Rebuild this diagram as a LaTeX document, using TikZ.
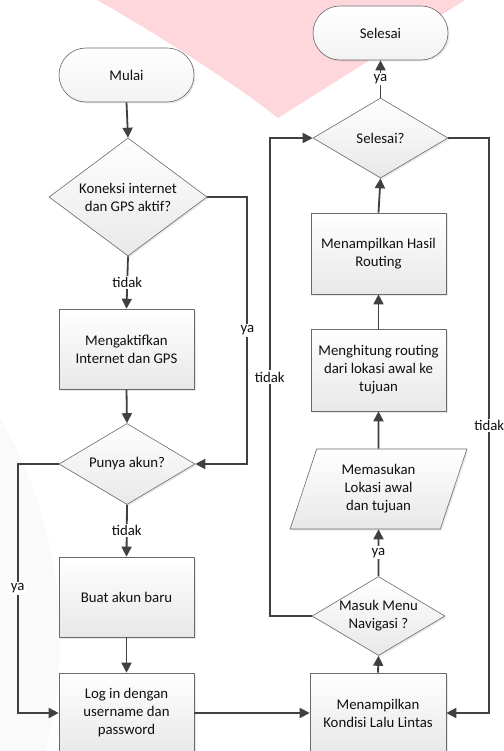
\documentclass[tikz,border=0pt]{standalone}
\usepackage{fontspec}
\setmainfont{Carlito}
\usetikzlibrary{shapes.geometric,arrows.meta,shadows}
\definecolor{linec}{HTML}{404040}
\definecolor{borderc}{HTML}{6A6A6A}
\definecolor{txtc}{HTML}{101010}
\definecolor{wmpink}{HTML}{FDD7DC}
\begin{document}
\begin{tikzpicture}[x=1pt,y=-1pt,
  every node/.style={font=\fontsize{14.8}{18}\selectfont, text=txtc},
  base/.style={draw=borderc, line width=0.6pt, top color=white, bottom color=black!9,
    drop shadow={shadow xshift=1.5pt, shadow yshift=-1.5pt, opacity=0.18}},
  procbox/.style={base, rectangle, minimum width=135pt, minimum height=80pt, inner sep=2pt, align=center},
  termbox/.style={base, rectangle, rounded corners=27pt, minimum width=135pt, minimum height=54pt, top color=white, bottom color=black!5},
  decision/.style={base, diamond, inner sep=0pt},
  iobox/.style={base, trapezium, trapezium left angle=72, trapezium right angle=108, trapezium stretches=true,
    minimum width=177pt, minimum height=80pt, inner sep=0pt, align=center},
  conn/.style={draw=linec, line width=1.8pt, -{Triangle[length=10pt,width=10pt]}},
  lab/.style={fill=white, inner sep=1.5pt}
]
\useasboundingbox (0,0) rectangle (503,751);
% background watermark
\fill[black!2] (-380,640) circle (440);
\fill[wmpink] (90,-5) -- (97,0) .. controls (150,30) and (230,80) .. (278,118) -- (465,0) -- (470,-5) -- cycle;

% left column
\node[termbox] (mulai) at (126.5,75) {Mulai};
\node[decision, minimum width=158pt, minimum height=118pt,
  label={[align=center]center:Koneksi internet\\dan GPS aktif?}] (kon) at (128,197) {};
\node[procbox] (meng) at (126.5,349) {Mengaktifkan\\Internet dan GPS};
\node[decision, minimum width=136pt, minimum height=81pt,
  label={center:Punya akun?}] (punya) at (127,464) {};
\node[procbox] (buat) at (126.5,597) {Buat akun baru};
\node[procbox] (login) at (126.5,713) {Log in dengan\\username dan\\password};

% right column
\node[termbox] (selesai) at (380.5,33) {Selesai};
\node[decision, minimum width=135pt, minimum height=80pt,
  label={center:Selesai?}] (sel) at (380.5,138) {};
\node[procbox, minimum height=81pt] (hasil) at (378.5,253.5) {Menampilkan Hasil\\Routing};
\node[procbox, minimum height=82pt] (hit) at (378.5,370) {Menghitung routing\\dari lokasi awal ke\\tujuan};
\node[iobox] (input) at (378.5,489) {Memasukan\\Lokasi awal\\dan tujuan};
\node[decision, minimum width=133pt, minimum height=79pt,
  label={[align=center]center:Masuk Menu\\Navigasi ?}] (masuk) at (378.5,616) {};
\node[procbox, minimum width=136pt] (kondisi) at (378,713) {Menampilkan\\Kondisi Lalu Lintas};

% connectors left
\draw[conn] (mulai.south) -- (kon.north);
\draw[conn] (kon.south) -- node[lab] (l1) {tidak} (meng.north);
\draw[conn] (kon.east) -- ++(40,0) |- node[lab, pos=0.25] (l2) {ya} (punya.east);
\draw[conn] (meng.south) -- (punya.north);
\draw[conn] (punya.west) -- ++(-41,0) |- node[lab, pos=0.25] (l3) {ya} (login.west);
\draw[conn] (punya.south) -- node[lab] (l4) {tidak} (buat.north);
\draw[conn] (buat.south) -- (login.north);
\draw[conn] (login.east) -- (kondisi.west);

% connectors right
\draw[conn] (kondisi.north) -- (masuk.south);
\draw[conn] (masuk.north) -- node[lab] (l5) {ya} (input.south);
\draw[conn] (input.north) -- (hit.south);
\draw[conn] (hit.north) -- (hasil.south);
\draw[conn] (hasil.north) -- (sel.south);
\draw[conn] (sel.north) -- node[lab] (l6) {ya} (selesai.south);
\draw[conn] (masuk.west) -- ++(-42,0) |- node[lab, pos=0.25] (l7) {tidak} (sel.west);
\draw[conn] (sel.east) -- ++(41,0) |- node[lab, pos=0.25] (l8) {tidak} (kondisi.east);
\end{tikzpicture}
\end{document}
